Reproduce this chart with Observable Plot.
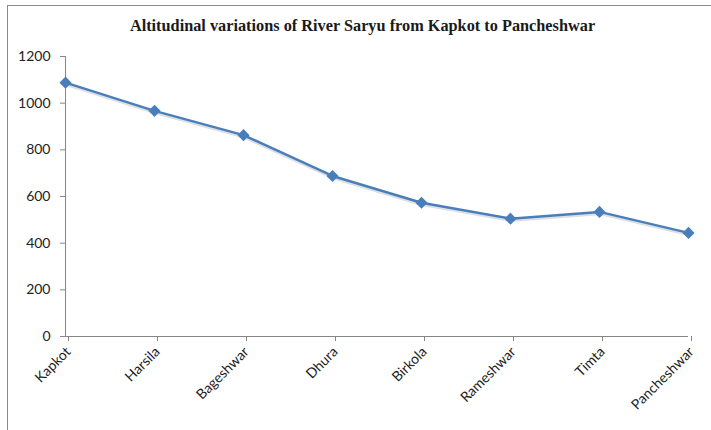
<!DOCTYPE html>
<html>
<head>
<meta charset="utf-8">
<script src="https://cdn.jsdelivr.net/npm/d3@7"></script>
<script src="https://cdn.jsdelivr.net/npm/@observablehq/plot@0.6"></script>
<style>
  html, body { margin: 0; padding: 0; background: #fff; }
  #wrap { position: relative; width: 711px; height: 430px; overflow: hidden; }
  #frame { position: absolute; left: 7px; top: 5px; right: -2px; bottom: -2px; border-left: 1px solid #8a8a8a; border-top: 1px solid #8a8a8a; pointer-events: none; }
  #title { position: absolute; left: 0; width: 725px; top: 16px; text-align: center; font-family: "Liberation Serif", "DejaVu Serif", serif; font-weight: bold; font-size: 16.3px; color: #1a1a1a; white-space: nowrap; }
  #chart { position: absolute; left: 0; top: 0; }
</style>
</head>
<body>
<div id="wrap">
  <div id="frame"></div>
  <div id="chart"></div>
  <div id="title">Altitudinal variations of River Saryu from Kapkot to Pancheshwar</div>
</div>
<script>
const places = ["Kapkot", "Harsila", "Bageshwar", "Dhura", "Birkola", "Rameshwar", "Timta", "Pancheshwar"];
const altitudes = [1088, 967, 863, 688, 573, 505, 534, 444];
const yTicks = [0, 200, 400, 600, 800, 1000, 1200];

const data = places.map((p, i) => ({place: p, alt: altitudes[i]}));
const blue = "#4a7ebb";
const axisGray = "#868686";

const chart = Plot.plot({
  width: 711,
  height: 430,
  marginLeft: 65,
  marginRight: 23,
  marginTop: 56,
  marginBottom: 94,
  style: {fontFamily: "Lato, 'Open Sans', sans-serif", fontSize: "14px", color: "#222", background: "transparent"},
  x: {type: "point", domain: places, padding: 0, label: null},
  y: {domain: [0, 1200], label: null},
  marks: [
    Plot.ruleX([places[0]], {stroke: axisGray, strokeWidth: 1}),
    Plot.ruleY([0], {stroke: axisGray, strokeWidth: 1}),
    Plot.axisY({ticks: yTicks, tickFormat: "d", tickSize: 5, tickPadding: 10, stroke: axisGray, label: null, fill: "#222"}),
    Plot.axisX({tickSize: 5, tickRotate: -45, tickPadding: 8, dx: 3, stroke: axisGray, label: null, fill: "#222"}),
    Plot.line(data, {x: "place", y: "alt", stroke: "#9aa6b5", strokeWidth: 2.5, strokeOpacity: 0.35, dy: 2}),
    Plot.line(data, {x: "place", y: "alt", stroke: blue, strokeWidth: 2.5}),
    Plot.dot(data, {x: "place", y: "alt", symbol: "diamond2", r: 4.5, fill: blue, stroke: blue})
  ]
});
document.getElementById("chart").appendChild(chart);
</script>
</body>
</html>
